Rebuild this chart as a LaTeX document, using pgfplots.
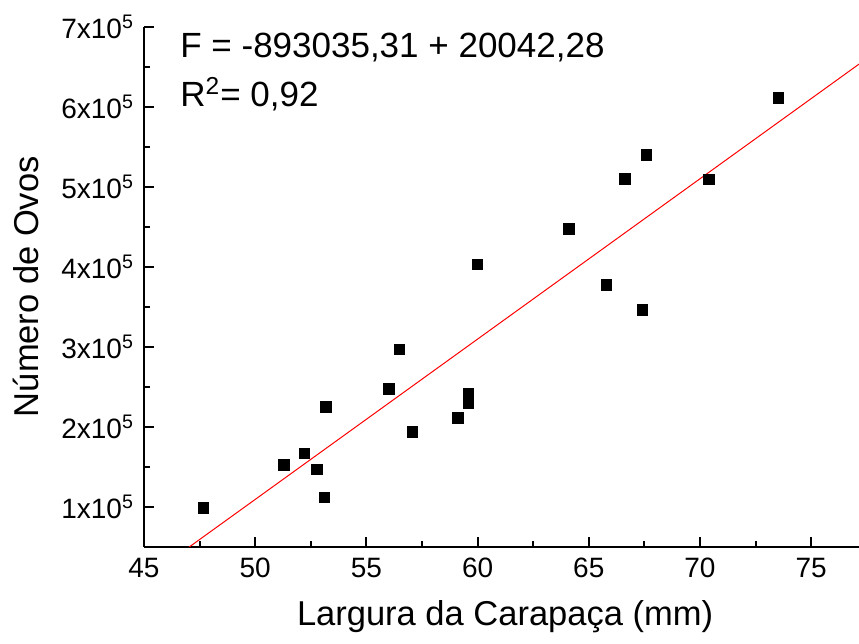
\documentclass[border=0pt]{standalone}
\usepackage{pgfplots}
\pgfplotsset{compat=1.18}
\usepackage{fontspec}
\setmainfont{Liberation Sans}

\begin{document}
\begin{tikzpicture}
\path[use as bounding box] (-72pt,-48.65pt) rectangle (357.5pt,273.35pt);
\begin{axis}[
    scale only axis,
    width=357.5pt,
    height=260pt,
    xmin=45, xmax=77.15,
    ymin=50000, ymax=700000,
    axis x line*=bottom,
    axis y line*=left,
    axis line style={line width=1.2pt},
    tick align=inside,
    major tick length=5pt,
    minor tick length=3pt,
    every tick/.style={black, line width=1pt},
    xtick={45,50,...,75},
    minor x tick num=1,
    ytick={100000,200000,300000,400000,500000,600000,700000},
    minor y tick num=1,
    yticklabels={
        1x10\textsuperscript{5}, 2x10\textsuperscript{5}, 3x10\textsuperscript{5},
        4x10\textsuperscript{5}, 5x10\textsuperscript{5}, 6x10\textsuperscript{5},
        7x10\textsuperscript{5}},
    scaled y ticks=false,
    /pgf/number format/assume math mode=true,
    tick label style={font=\fontsize{14}{16}\selectfont},
    xticklabel style={yshift=-2pt},
    yticklabel style={xshift=-1.5pt},
    xlabel={Largura da Carapaça (mm)},
    ylabel={Número de Ovos},
    label style={font=\fontsize{17.25}{20}\selectfont},
    xlabel style={at={(axis description cs:0.505,-0.1525)}, anchor=base},
    ylabel style={at={(axis description cs:-0.1469,0.5)}, anchor=base},
]

% regression line
\addplot[red, line width=0.5pt] coordinates {(46,28909.6) (78,670262.5)};

% measured females
\addplot[only marks, mark=square*, mark size=2.6pt, black] coordinates {
    (47.67,98750)
    (51.29,152500)
    (52.21,166750)
    (52.77,146750)
    (53.11,111750)
    (53.18,225000)
    (56.02,247500)
    (56.48,296750)
    (57.08,193750)
    (59.11,210900)
    (59.60,241750)
    (59.60,229250)
    (59.99,403000)
    (64.11,447500)
    (65.80,377500)
    (66.63,510000)
    (67.41,346250)
    (67.60,540000)
    (70.40,509250)
    (73.52,611250)
};

\node[anchor=base west, inner sep=0pt, font=\fontsize{17.5}{20}\selectfont]
    at (rel axis cs:0.0503,0.9417) {F = -893035,31 + 20042,28};
\node[anchor=base west, inner sep=0pt, font=\fontsize{17.5}{20}\selectfont]
    at (rel axis cs:0.0503,0.8456) {R\textsuperscript{2}= 0,92};
\end{axis}
\end{tikzpicture}
\end{document}
